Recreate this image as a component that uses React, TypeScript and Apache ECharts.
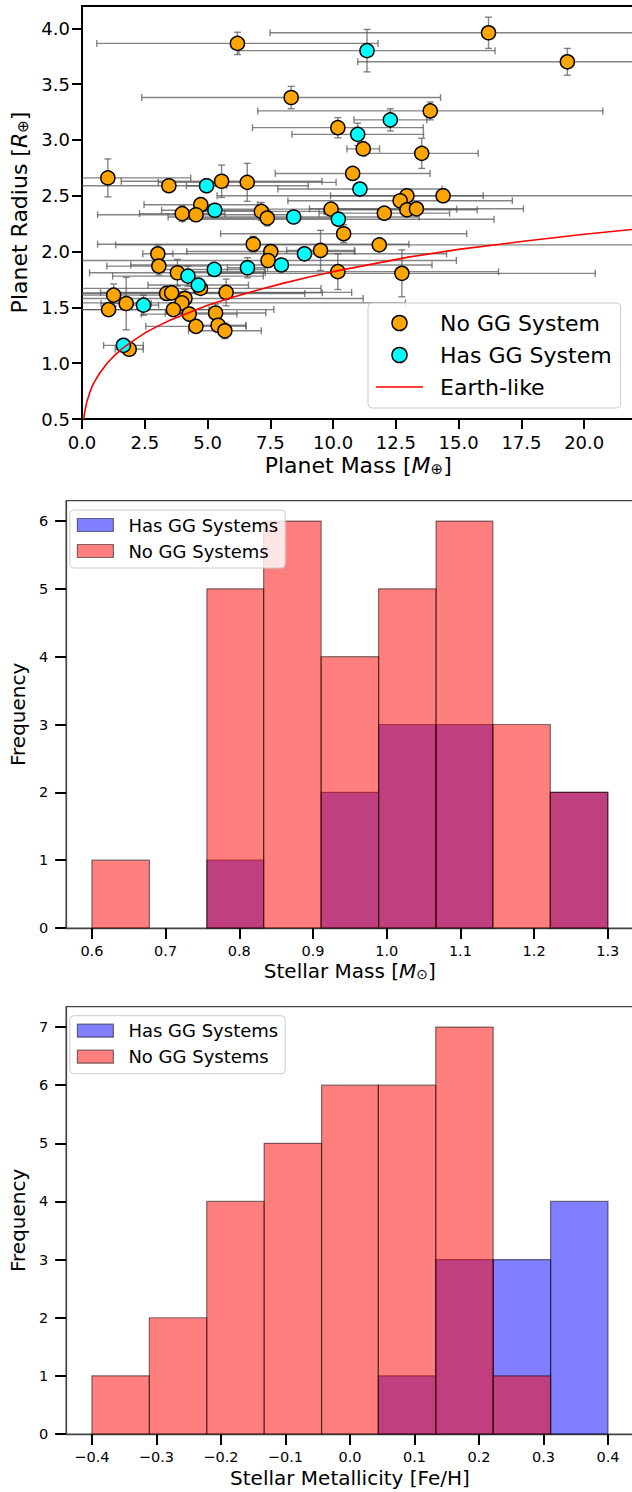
import React, { useEffect, useRef } from "react";
import * as echarts from "echarts";

const FONT = "DejaVu Sans";

// Planet mass [M_earth], radius [R_earth], mass error, radius error
const noGG: number[][] = [
  [6.19, 3.865, 5.6, 0.1],
  [16.19, 3.96, 8.7, 0.14],
  [19.33, 3.7, 8.35, 0.12],
  [8.33, 3.38, 5.95, 0.1],
  [13.87, 3.26, 6.87, 0.08],
  [10.19, 3.11, 3.4, 0.09],
  [11.2, 2.92, 0.65, 0.06],
  [13.53, 2.88, 2.25, 0.135],
  [1.03, 2.66, 3.3, 0.17],
  [3.46, 2.59, 5.55, 0.05],
  [5.56, 2.63, 4.0, 0.145],
  [6.58, 2.62, 3.54, 0.17],
  [4.73, 2.42, 2.26, 0.06],
  [3.99, 2.34, 1.7, 0.07],
  [4.54, 2.33, 3.92, 0.05],
  [7.14, 2.36, 2.5, 0.08],
  [7.38, 2.3, 3.0, 0.07],
  [6.82, 2.066, 6.2, 0.07],
  [3.02, 1.98, 0.6, 0.08],
  [7.52, 2.0, 3.35, 0.06],
  [3.06, 1.87, 2.07, 0.08],
  [7.41, 1.92, 7.5, 0.06],
  [3.8, 1.81, 3.5, 0.12],
  [4.72, 1.67, 4.8, 0.05],
  [5.74, 1.634, 5.0, 0.12],
  [1.26, 1.61, 2.5, 0.1],
  [3.37, 1.625, 5.5, 0.06],
  [3.57, 1.63, 6.0, 0.06],
  [4.1, 1.58, 7.1, 0.08],
  [3.98, 1.54, 8.9, 0.1],
  [1.06, 1.48, 4.0, 0.06],
  [1.76, 1.535, 1.0, 0.235],
  [3.64, 1.48, 4.0, 0.06],
  [4.27, 1.44, 1.9, 0.06],
  [5.32, 1.45, 2.0, 0.08],
  [4.54, 1.33, 2.0, 0.06],
  [5.42, 1.34, 1.1, 0.06],
  [5.69, 1.29, 1.45, 0.07],
  [1.88, 1.125, 0.56, 0.05],
  [10.78, 2.7, 3.08, 0.05],
  [12.94, 2.5, 3.04, 0.05],
  [12.67, 2.455, 4.47, 0.05],
  [14.38, 2.5, 9.0, 0.06],
  [9.92, 2.38, 5.0, 0.05],
  [12.94, 2.374, 2.8, 0.05],
  [13.32, 2.383, 4.26, 0.05],
  [12.04, 2.344, 2.6, 0.05],
  [10.42, 2.16, 4.9, 0.08],
  [11.84, 2.06, 10.5, 0.05],
  [9.5, 2.01, 1.35, 0.18],
  [10.19, 1.82, 6.4, 0.16],
  [12.74, 1.805, 7.7, 0.21],
];

const hasGG: number[][] = [
  [11.35, 3.8, 5.1, 0.19],
  [12.28, 3.18, 1.45, 0.1],
  [10.98, 3.05, 2.62, 0.1],
  [4.96, 2.59, 0.8, 0.06],
  [5.29, 2.37, 2.12, 0.06],
  [8.43, 2.31, 5.0, 0.05],
  [8.86, 1.98, 5.66, 0.05],
  [7.94, 1.88, 6.0, 0.05],
  [4.22, 1.78, 3.0, 0.09],
  [5.27, 1.84, 2.0, 0.05],
  [6.59, 1.855, 0.8, 0.09],
  [4.63, 1.7, 2.0, 0.06],
  [2.45, 1.52, 0.6, 0.09],
  [1.65, 1.16, 0.79, 0.05],
  [11.07, 2.56, 3.27, 0.05],
  [10.21, 2.29, 6.2, 0.05],
];

// Earth-like composition curve
const earthLike: number[][] = [
  [0.07, 0.5], [0.1, 0.55], [0.15, 0.61], [0.2, 0.66], [0.3, 0.73], [0.4, 0.79],
  [0.5, 0.835], [0.7, 0.91], [1.0, 1.0], [1.3, 1.07], [1.6, 1.13], [2.0, 1.195],
  [2.5, 1.27], [3.0, 1.33], [3.5, 1.385], [4.0, 1.43], [5.0, 1.52], [6.0, 1.59],
  [7.0, 1.655], [8.0, 1.715], [9.0, 1.77], [10.0, 1.82], [11.5, 1.885], [13.0, 1.95],
  [15.0, 2.02], [17.5, 2.09], [20.0, 2.155], [22.0, 2.2],
];

const massTicks = [0, 2.5, 5, 7.5, 10, 12.5, 15, 17.5, 20];
const radiusTicks = [0.5, 1, 1.5, 2, 2.5, 3, 3.5, 4];

// Stellar mass histogram
const stellarMassEdges = [0.6, 0.678, 0.756, 0.833, 0.911, 0.989, 1.067, 1.144, 1.222, 1.3];
const stellarMassHas = [0, 0, 1, 0, 2, 3, 3, 0, 2];
const stellarMassNo = [1, 0, 5, 6, 4, 5, 6, 3, 2];
const stellarMassTicks = [0.6, 0.7, 0.8, 0.9, 1.0, 1.1, 1.2, 1.3];
const freqTicksMass = [0, 1, 2, 3, 4, 5, 6];

// Metallicity histogram
const metalEdges = [-0.4, -0.311, -0.222, -0.133, -0.044, 0.044, 0.133, 0.222, 0.311, 0.4];
const metalHas = [0, 0, 0, 0, 0, 1, 3, 3, 4];
const metalNo = [1, 2, 4, 5, 6, 6, 7, 1, 0];
const metalTicks = [-0.4, -0.3, -0.2, -0.1, 0, 0.1, 0.2, 0.3, 0.4];
const freqTicksMetal = [0, 1, 2, 3, 4, 5, 6, 7];

const BLUE = "rgba(0,0,255,0.5)";
const RED = "rgba(255,0,0,0.5)";
const EDGE = "rgba(0,0,0,0.5)";

function histBars(edges: number[], counts: number[]) {
  return counts.map((c, i) => [edges[i], edges[i + 1], c]);
}

function histRender(fill: string) {
  return (_params: any, api: any) => {
    const x0 = api.value(0);
    const x1 = api.value(1);
    const c = api.value(2);
    if (!c) return null;
    const p0 = api.coord([x0, c]);
    const p1 = api.coord([x1, 0]);
    return {
      type: "rect",
      shape: { x: p0[0], y: p0[1], width: p1[0] - p0[0], height: p1[1] - p0[1] },
      style: { fill, stroke: EDGE, lineWidth: 1.2 },
    };
  };
}

function errRender(_params: any, api: any) {
  const m = api.value(0);
  const r = api.value(1);
  const xe = api.value(2);
  const ye = api.value(3);
  const l = api.coord([m - xe, r]);
  const rr = api.coord([m + xe, r]);
  const b = api.coord([m, r - ye]);
  const t = api.coord([m, r + ye]);
  const cap = 3.5;
  const st = { stroke: "rgba(85,85,85,0.72)", lineWidth: 1.4 };
  return {
    type: "group",
    children: [
      { type: "line", shape: { x1: l[0], y1: l[1], x2: rr[0], y2: rr[1] }, style: st },
      { type: "line", shape: { x1: l[0], y1: l[1] - cap, x2: l[0], y2: l[1] + cap }, style: st },
      { type: "line", shape: { x1: rr[0], y1: rr[1] - cap, x2: rr[0], y2: rr[1] + cap }, style: st },
      { type: "line", shape: { x1: b[0], y1: b[1], x2: t[0], y2: t[1] }, style: st },
      { type: "line", shape: { x1: b[0] - cap, y1: b[1], x2: b[0] + cap, y2: b[1] }, style: st },
      { type: "line", shape: { x1: t[0] - cap, y1: t[1], x2: t[0] + cap, y2: t[1] }, style: st },
    ],
  };
}

const fmt1 = (v: number) => (v < -1e-9 ? "\u2212" + Math.abs(v).toFixed(1) : Math.abs(v).toFixed(1));

function richName(size: number) {
  return {
    n: { fontSize: size, fontFamily: FONT, color: "#000" },
    i: { fontSize: size, fontFamily: FONT, fontStyle: "italic", color: "#000" },
    s: { fontSize: Math.round(size * 0.7), fontFamily: FONT, color: "#000", verticalAlign: "bottom", lineHeight: Math.round(size * 0.7) },
  };
}

function axis(o: {
  gridIndex: number; min: number; max: number; ticks: number[]; fmt: (v: number) => string;
  labelSize: number; margin: number; tickLen: number; lineColor: string; lineWidth: number;
  name: string; nameSize: number; nameGap: number;
}) {
  return {
    type: "value",
    gridIndex: o.gridIndex,
    min: o.min,
    max: o.max,
    splitLine: { show: false },
    axisLine: { show: true, onZero: false, lineStyle: { color: o.lineColor, width: o.lineWidth } },
    axisTick: { show: true, inside: false, length: o.tickLen, lineStyle: { color: "#000", width: 2 }, customValues: o.ticks },
    axisLabel: {
      customValues: o.ticks,
      formatter: (v: number) => o.fmt(v),
      fontSize: o.labelSize,
      fontFamily: FONT,
      color: "#000",
      margin: o.margin,
    },
    name: o.name,
    nameLocation: "middle",
    nameGap: o.nameGap,
    nameTextStyle: { fontSize: o.nameSize, fontFamily: FONT, color: "#000", rich: richName(o.nameSize) },
  };
}

export default function App() {
  const ref = useRef<HTMLDivElement>(null);

  useEffect(() => {
    if (!ref.current) return;
    const chart = echarts.init(ref.current, null, { renderer: "svg" });

    const option: any = {
      animation: false,
      backgroundColor: "#ffffff",
      textStyle: { fontFamily: FONT },
      grid: [
        { left: 80, top: 6, width: 554.4, height: 413, show: true, borderColor: "#000", borderWidth: 2, backgroundColor: "transparent" },
        { left: 60.7, top: 500.7, width: 572.9, height: 427.3, show: true, borderColor: "#444", borderWidth: 1.25, backgroundColor: "transparent" },
        { left: 60.5, top: 1006.7, width: 573.3, height: 427.3, show: true, borderColor: "#444", borderWidth: 1.25, backgroundColor: "transparent" },
      ],
      xAxis: [
        axis({ gridIndex: 0, min: 0, max: 22, ticks: massTicks, fmt: fmt1, labelSize: 18, margin: 14, tickLen: 10, lineColor: "#000", lineWidth: 2,
          name: "{n|Planet Mass [}{i|M}{s|\u2295}{n|]}", nameSize: 22, nameGap: 35 }),
        axis({ gridIndex: 1, min: 0.565, max: 1.335, ticks: stellarMassTicks, fmt: fmt1, labelSize: 14.5, margin: 15, tickLen: 11, lineColor: "#444", lineWidth: 1.25,
          name: "{n|Stellar Mass [}{i|M}{s|\u2299}{n|]}", nameSize: 20, nameGap: 33 }),
        axis({ gridIndex: 2, min: -0.44, max: 0.44, ticks: metalTicks, fmt: fmt1, labelSize: 14.5, margin: 15, tickLen: 11, lineColor: "#444", lineWidth: 1.25,
          name: "{n|Stellar Metallicity [Fe/H]}", nameSize: 20, nameGap: 34 }),
      ],
      yAxis: [
        axis({ gridIndex: 0, min: 0.5, max: 4.2, ticks: radiusTicks, fmt: fmt1, labelSize: 18, margin: 12, tickLen: 10, lineColor: "#000", lineWidth: 2,
          name: "{n|Planet Radius [}{i|R}{s|\u2295}{n|]}", nameSize: 22, nameGap: 52 }),
        axis({ gridIndex: 1, min: 0, max: 6.3, ticks: freqTicksMass, fmt: (v) => String(Math.round(v)), labelSize: 14.5, margin: 18, tickLen: 11, lineColor: "#444", lineWidth: 1.25,
          name: "{n|Frequency}", nameSize: 20, nameGap: 33 }),
        axis({ gridIndex: 2, min: 0, max: 7.35, ticks: freqTicksMetal, fmt: (v) => String(Math.round(v)), labelSize: 14.5, margin: 18, tickLen: 11, lineColor: "#444", lineWidth: 1.25,
          name: "{n|Frequency}", nameSize: 20, nameGap: 33 }),
      ],
      legend: [
        {
          left: 368, top: 303, orient: "vertical", selectedMode: false,
          padding: [9, 9, 10, 8], itemWidth: 47, itemHeight: 15, itemGap: 10,
          backgroundColor: "rgba(255,255,255,0.8)", borderColor: "#cccccc", borderWidth: 1, borderRadius: 4,
          textStyle: { fontSize: 22, lineHeight: 22, fontFamily: FONT, color: "#000", padding: [0, 0, 0, 12] },
          data: [
            { name: "No GG System", icon: "circle", itemStyle: { color: "#FFA500", borderColor: "#000", borderWidth: 1.5 } },
            { name: "Has GG System", icon: "circle", itemStyle: { color: "#00FFFF", borderColor: "#000", borderWidth: 1.5 } },
            { name: "Earth-like", icon: "path://M0,0L47,0L47,1.6L0,1.6Z", itemStyle: { color: "#ff0000", borderWidth: 0 } },
          ],
        },
        {
          left: 69.8, top: 510, orient: "vertical", selectedMode: false,
          padding: [6, 7, 8, 7], itemWidth: 36, itemHeight: 13, itemGap: 8,
          backgroundColor: "rgba(255,255,255,0.8)", borderColor: "#cccccc", borderWidth: 1, borderRadius: 4,
          textStyle: { fontSize: 18, lineHeight: 18, fontFamily: FONT, color: "#000", padding: [0, 0, 0, 10] },
          data: [
            { name: "Has GG Systems", icon: "rect", itemStyle: { color: BLUE, borderColor: EDGE, borderWidth: 1.2 } },
            { name: "No GG Systems", icon: "rect", itemStyle: { color: RED, borderColor: EDGE, borderWidth: 1.2 } },
          ],
        },
        {
          left: 69.8, top: 1015.7, orient: "vertical", selectedMode: false,
          padding: [6, 7, 8, 7], itemWidth: 36, itemHeight: 13, itemGap: 8,
          backgroundColor: "rgba(255,255,255,0.8)", borderColor: "#cccccc", borderWidth: 1, borderRadius: 4,
          textStyle: { fontSize: 18, lineHeight: 18, fontFamily: FONT, color: "#000", padding: [0, 0, 0, 10] },
          data: [
            { name: "Has GG Systems", icon: "rect", itemStyle: { color: BLUE, borderColor: EDGE, borderWidth: 1.2 } },
            { name: "No GG Systems", icon: "rect", itemStyle: { color: RED, borderColor: EDGE, borderWidth: 1.2 } },
          ],
        },
      ],
      series: [
        {
          type: "custom", name: "errors", xAxisIndex: 0, yAxisIndex: 0, silent: true, clip: true, z: 1,
          renderItem: errRender, encode: { x: 0, y: 1 }, data: [...noGG, ...hasGG],
        },
        {
          type: "scatter", name: "No GG System", xAxisIndex: 0, yAxisIndex: 0, z: 3, symbol: "circle", symbolSize: 14,
          itemStyle: { color: "#FFA500", borderColor: "#000", borderWidth: 1.5, opacity: 1 },
          data: noGG.map((d) => [d[0], d[1]]),
        },
        {
          type: "scatter", name: "Has GG System", xAxisIndex: 0, yAxisIndex: 0, z: 4, symbol: "circle", symbolSize: 14,
          itemStyle: { color: "#00FFFF", borderColor: "#000", borderWidth: 1.5, opacity: 1 },
          data: hasGG.map((d) => [d[0], d[1]]),
        },
        {
          type: "line", name: "Earth-like", xAxisIndex: 0, yAxisIndex: 0, z: 5, symbol: "none", showSymbol: false, smooth: false,
          lineStyle: { color: "#ff0000", width: 1.6 }, itemStyle: { color: "#ff0000" }, data: earthLike,
        },
        {
          type: "custom", name: "Has GG Systems", xAxisIndex: 1, yAxisIndex: 1, z: 2, silent: true,
          renderItem: histRender(BLUE), encode: { x: [0, 1], y: 2 }, itemStyle: { color: BLUE },
          data: histBars(stellarMassEdges, stellarMassHas),
        },
        {
          type: "custom", name: "No GG Systems", xAxisIndex: 1, yAxisIndex: 1, z: 3, silent: true,
          renderItem: histRender(RED), encode: { x: [0, 1], y: 2 }, itemStyle: { color: RED },
          data: histBars(stellarMassEdges, stellarMassNo),
        },
        {
          type: "custom", name: "Has GG Systems", xAxisIndex: 2, yAxisIndex: 2, z: 2, silent: true,
          renderItem: histRender(BLUE), encode: { x: [0, 1], y: 2 }, itemStyle: { color: BLUE },
          data: histBars(metalEdges, metalHas),
        },
        {
          type: "custom", name: "No GG Systems", xAxisIndex: 2, yAxisIndex: 2, z: 3, silent: true,
          renderItem: histRender(RED), encode: { x: [0, 1], y: 2 }, itemStyle: { color: RED },
          data: histBars(metalEdges, metalNo),
        },
      ],
    };
    chart.setOption(option);
    return () => chart.dispose();
  }, []);

  return (
    <div style={{ position: "absolute", left: 0, top: 0, width: 632, height: 1492, overflow: "hidden", background: "#fff" }}>
      <div ref={ref} style={{ width: 640, height: 1492 }} />
    </div>
  );
}
